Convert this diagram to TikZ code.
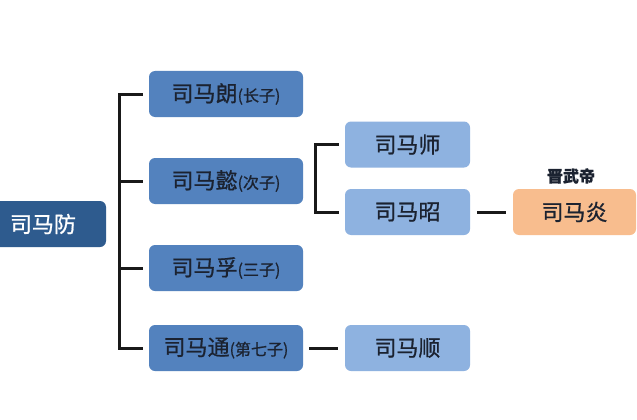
\documentclass[tikz,border=0pt]{standalone}
\usepackage{fontspec}
\setmainfont{Noto Sans CJK SC}
\newfontfamily\medfont[FakeBold=0.9]{Noto Sans CJK SC}
\definecolor{rootblue}{HTML}{2E5B8E}
\definecolor{midblue}{HTML}{5382BE}
\definecolor{lightblue}{HTML}{8EB2E0}
\definecolor{peach}{HTML}{F8BD8E}
\definecolor{darktext}{HTML}{1B2230}
\tikzset{
  box/.style={rounded corners=6pt, minimum height=46pt, inner sep=0pt, font=\medfont\fontsize{22}{25}\selectfont},
  rootbox/.style={box, fill=rootblue, text=white, minimum width=120pt},
  lvlone/.style={box, fill=midblue, text=darktext, minimum width=154pt},
  lvltwo/.style={box, fill=lightblue, text=darktext, minimum width=125pt},
  emperor/.style={box, fill=peach, text=darktext, minimum width=123pt},
  conn/.style={line width=3pt, black!90}
}
\newcommand{\sm}[1]{{\fontsize{16}{19}\selectfont #1}}
\begin{document}
\begin{tikzpicture}[x=1pt,y=-1pt]
\useasboundingbox (0,0) rectangle (637,420);
\fill[white] (0,0) rectangle (637,420);
\clip (0,0) rectangle (637,420);
\node[rootbox] (fang) at (46,224) {\hspace*{-6pt}司马防};
\node[lvlone] (lang) at (226,94) {司马朗\sm{(长子)}};
\node[lvlone] (yi) at (226,181) {司马懿\sm{(次子)}};
\node[lvlone] (fu) at (226,268) {司马孚\sm{(三子)}};
\node[lvlone] (tong) at (226,348) {司马通\sm{(第七子)}};
\node[lvltwo] (shi) at (407.5,144.5) {司马师};
\node[lvltwo] (zhao) at (407.5,212) {司马昭};
\node[lvltwo] (shun) at (407.5,348) {司马顺};
\node[emperor] (yan) at (574.5,212) {司马炎};
\node[font=\medfont\fontsize{16}{19}\selectfont\bfseries, text=darktext, inner sep=0pt] (title) at (571,176) {晋武帝};
\draw[conn, shorten <=6pt, shorten >=6pt] (lang.west) -- ++(-29,0) |- (tong.west);
\draw[conn, shorten >=6pt] ([xshift=-29pt]yi.west) -- (yi.west);
\draw[conn, shorten >=6pt] ([xshift=-29pt]fu.west) -- (fu.west);
\draw[conn, shorten <=6pt, shorten >=6pt] (shi.west) -- ++(-29,0) |- (zhao.west);
\draw[conn, shorten <=7pt, shorten >=7pt] (zhao.east) -- (yan.west);
\draw[conn, shorten <=6pt, shorten >=7pt] (tong.east) -- (shun.west);
\end{tikzpicture}
\end{document}
